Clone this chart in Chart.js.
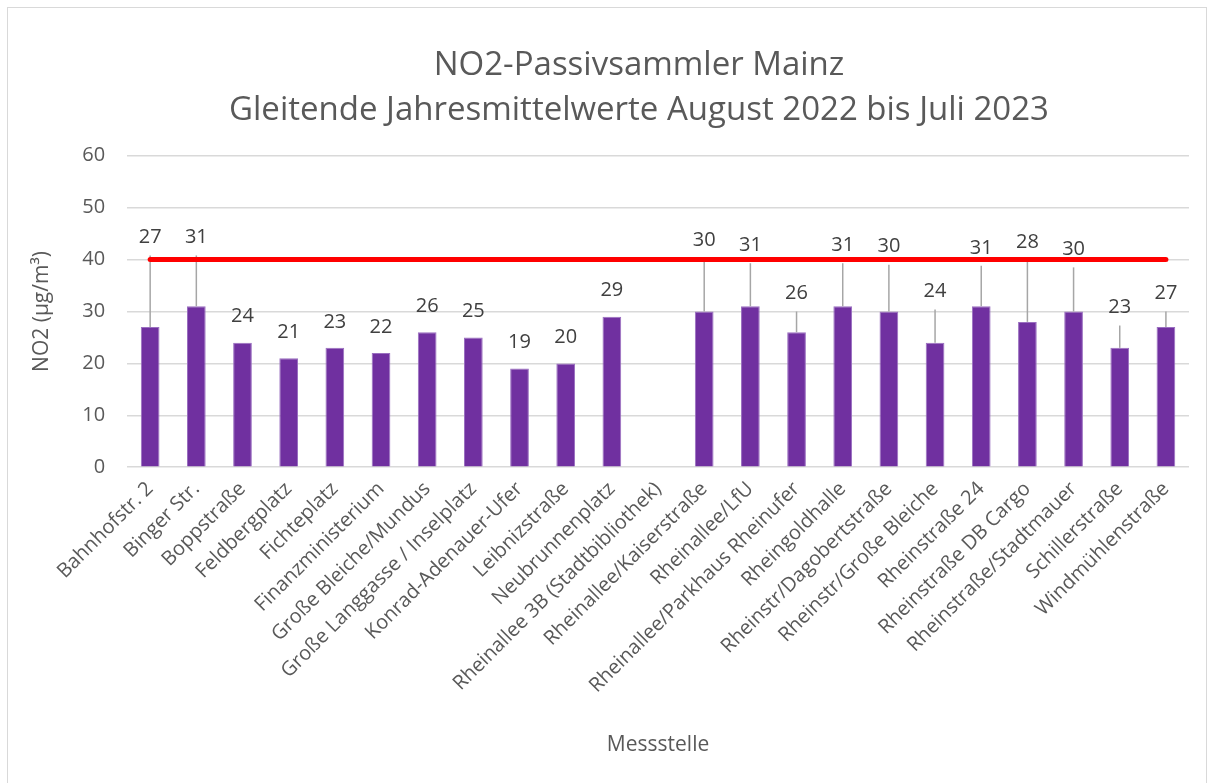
<!DOCTYPE html>
<html lang="de">
<head>
<meta charset="utf-8">
<title>NO2-Passivsammler Mainz</title>
<script src="https://cdn.jsdelivr.net/npm/chart.js@4/dist/chart.umd.min.js"></script>
<style>
  html, body { margin: 0; padding: 0; background: #fff; overflow: hidden; }
  #rahmen {
    position: absolute; left: 7px; top: 7px;
    width: 1198px; height: 790px;
    border: 1px solid #d9d9d9;
  }
  #chartCanvas { display: block; }
</style>
</head>
<body>
<div id="rahmen"><canvas id="chartCanvas" width="1198" height="776"></canvas></div>
<script>
// Messstellen (x-Achse)
const messstellen = [
    'Bahnhofstr. 2', 'Binger Str.', 'Boppstraße', 'Feldbergplatz', 'Fichteplatz',
    'Finanzministerium', 'Große Bleiche/Mundus', 'Große Langgasse / Inselplatz',
    'Konrad-Adenauer-Ufer', 'Leibnizstraße', 'Neubrunnenplatz',
    'Rheinallee 3B (Stadtbibliothek)', 'Rheinallee/Kaiserstraße', 'Rheinallee/LfU',
    'Rheinallee/Parkhaus Rheinufer', 'Rheingoldhalle', 'Rheinstr/Dagobertstraße',
    'Rheinstr/Große Bleiche', 'Rheinstraße 24', 'Rheinstraße DB Cargo',
    'Rheinstraße/Stadtmauer', 'Schillerstraße', 'Windmühlenstraße'
];

// Gleitende Jahresmittelwerte NO2 in µg/m³
const jahresmittel = [27, 31, 24, 21, 23, 22, 26, 25, 19, 20, 29, null,
    30, 31, 26, 31, 30, 24, 31, 28, 30, 23, 27];

// obere Enden der Fehlerbalken
const fehlerOben = [40.8, 40.8, null, null, null, null, null, null, null, null, null, null,
    40.2, 39.3, 30.0, 39.3, 39.0, 30.4, 38.8, 39.8, 38.5, 27.3, 30.0];

// Grenzwert
const grenzwert = 40;
const grenzwertLinie = messstellen.map(() => grenzwert);

const yMax = 60;
const yStep = 10;

const titelZeilen = ['NO2-Passivsammler Mainz', 'Gleitende Jahresmittelwerte August 2022 bis Juli 2023'];

const schrift = '"Open Sans", "Noto Sans", sans-serif';
const grau = '#595959';
const titelGroesse = 33;
const titelZeilenhoehe = 1.36;

// Fehlerbalken, Datenbeschriftungen und Titel (etwas nach rechts versetzt wie im Original)
const fehlerUndLabels = {
    id: 'fehlerUndLabels',
    afterDatasetDraw(chart, args) {
        if (args.index !== 0) return;
        const ctx = chart.ctx;
        const meta = chart.getDatasetMeta(0);
        const y = chart.scales.y;
        ctx.save();
        ctx.strokeStyle = '#a6a6a6';
        ctx.lineWidth = 1.5;
        meta.data.forEach((bar, i) => {
            if (jahresmittel[i] == null || fehlerOben[i] == null) return;
            ctx.beginPath();
            ctx.moveTo(bar.x, bar.y);
            ctx.lineTo(bar.x, y.getPixelForValue(fehlerOben[i]));
            ctx.stroke();
        });
        ctx.restore();
    },
    afterDatasetsDraw(chart) {
        const ctx = chart.ctx;
        const meta = chart.getDatasetMeta(0);
        const y = chart.scales.y;
        ctx.save();
        ctx.font = '20px ' + schrift;
        ctx.fillStyle = '#404040';
        ctx.textAlign = 'center';
        ctx.textBaseline = 'middle';
        meta.data.forEach((bar, i) => {
            if (jahresmittel[i] == null) return;
            let yPos;
            if (fehlerOben[i] != null) {
                yPos = y.getPixelForValue(fehlerOben[i]) - 18;
            } else {
                yPos = bar.y - 26;
            }
            ctx.fillText(String(jahresmittel[i]), bar.x, yPos);
        });
        ctx.restore();
    },
    afterDraw(chart) {
        const ctx = chart.ctx;
        const tb = chart.titleBlock;
        const zh = titelGroesse * titelZeilenhoehe;
        ctx.save();
        ctx.font = titelGroesse + 'px ' + schrift;
        ctx.fillStyle = grau;
        ctx.textAlign = 'center';
        ctx.textBaseline = 'middle';
        titelZeilen.forEach((z, i) => {
            ctx.fillText(z, chart.width / 2 + 32, tb.top + zh * (i + 0.5));
        });
        ctx.restore();
    }
};

const ctx = document.getElementById('chartCanvas').getContext('2d');
new Chart(ctx, {
    type: 'bar',
    data: {
        labels: messstellen,
        datasets: [{
            label: 'NO2',
            data: jahresmittel,
            backgroundColor: '#7030a0',
            borderColor: '#9a6fc0',
            borderWidth: 1,
            barPercentage: 0.405,
            categoryPercentage: 1.0,
            order: 1
        }, {
            type: 'line',
            label: 'Grenzwert',
            data: grenzwertLinie,
            borderColor: '#ff0000',
            borderWidth: 5,
            borderCapStyle: 'round',
            pointRadius: 0,
            fill: false,
            order: 0
        }]
    },
    options: {
        responsive: false,
        animation: false,
        devicePixelRatio: 1,
        layout: { padding: { top: 35, right: 17, left: 21, bottom: 26 } },
        plugins: {
            legend: { display: false },
            tooltip: { enabled: false },
            title: {
                // Platzhalter fuer den Titel, gezeichnet wird er im Plugin
                display: true,
                text: titelZeilen,
                color: 'rgba(0,0,0,0)',
                font: { family: schrift, size: titelGroesse, weight: 'normal', lineHeight: titelZeilenhoehe },
                padding: { top: 0, bottom: 23 }
            }
        },
        scales: {
            x: {
                grid: { display: false },
                border: { display: false },
                ticks: {
                    color: grau,
                    font: { family: schrift, size: 20 },
                    minRotation: 45,
                    maxRotation: 45,
                    autoSkip: false,
                    padding: 2
                },
                title: {
                    display: true,
                    text: 'Messstelle',
                    color: grau,
                    font: { family: schrift, size: 21 },
                    padding: { top: 33, bottom: 0 }
                }
            },
            y: {
                min: 0,
                max: yMax,
                grid: { color: '#d9d9d9', lineWidth: 1.5, drawTicks: false },
                border: { display: false },
                ticks: {
                    stepSize: yStep,
                    color: grau,
                    font: { family: schrift, size: 20 },
                    padding: 22
                },
                title: {
                    display: true,
                    text: 'NO2 (µg/m³)',
                    color: grau,
                    font: { family: schrift, size: 21 },
                    padding: { top: 0, bottom: 6 }
                }
            }
        }
    },
    plugins: [fehlerUndLabels]
});
</script>
</body>
</html>
